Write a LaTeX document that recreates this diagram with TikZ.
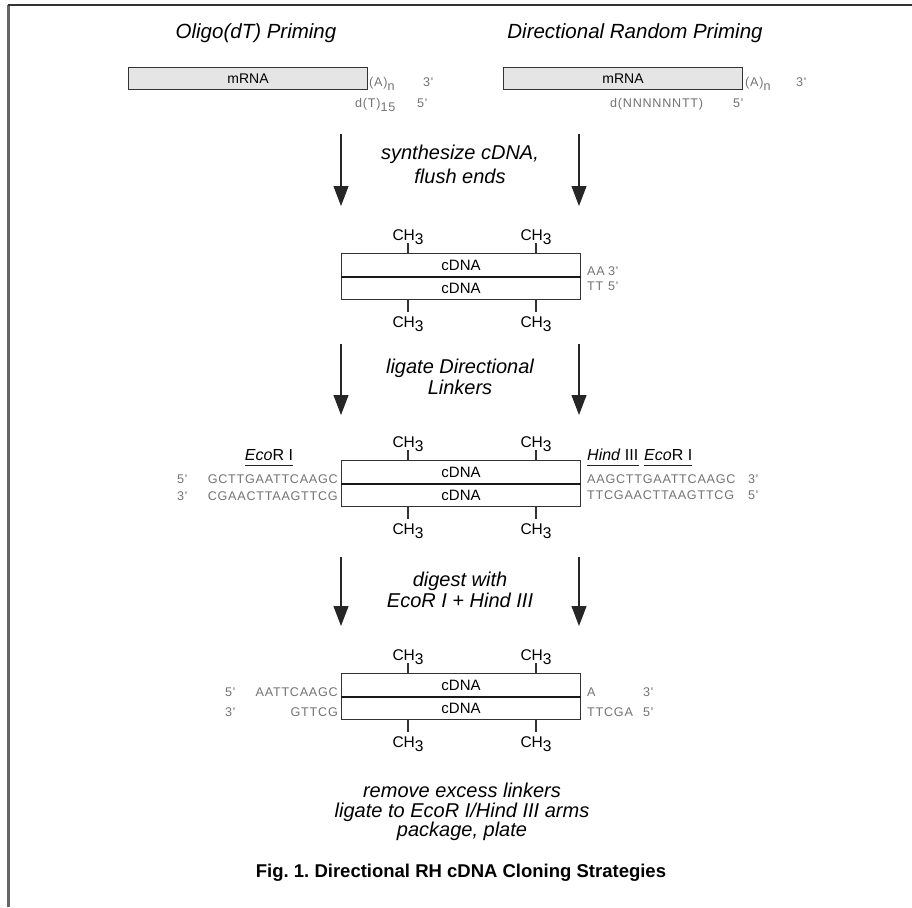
\documentclass[tikz,border=0pt]{standalone}
\usepackage{fontspec}
\setmainfont{Liberation Sans}
\newfontfamily\seqfont[LetterSpace=6]{Liberation Sans}
\usetikzlibrary{arrows.meta}
\frenchspacing

\newcommand\low[1]{\raisebox{-4pt}{#1}}
\newcommand\methyl{CH\raisebox{-4pt}{3}}

\tikzstyle{arrow} = [
    line width=1.1pt,
    -{Triangle[width=15pt,length=20pt]},
    draw=black!85
]
\tikzstyle{strand} = [draw=black!80, line width=1.1pt, minimum width=239pt, minimum height=23pt, inner sep=0pt, font=\fontsize{15}{15}\selectfont]
\tikzstyle{rnabox} = [strand, fill=gray!20, minimum height=22pt, font=\fontsize{14}{14}\selectfont]
\tikzstyle{midline} = [line width=2pt, draw=black!90]
\tikzstyle{tick} = [line width=1.1pt, draw=black!80]
\tikzstyle{methyl} = [anchor=base, inner sep=0pt, font=\fontsize{15.5}{16}\selectfont]
\tikzstyle{heading} = [anchor=base, inner sep=0pt, font=\fontsize{20.5}{22}\selectfont\itshape]
\tikzstyle{steptext} = [anchor=base, inner sep=0pt, font=\fontsize{20}{22}\selectfont\itshape]
\tikzstyle{seq} = [inner sep=0pt, text=black!55, font=\seqfont\fontsize{12.6}{13}\selectfont]
\tikzstyle{enzyme} = [inner xsep=0pt, inner ysep=5pt, font=\fontsize{16}{16}\selectfont]
\tikzstyle{underline} = [line width=0.9pt, draw=black!85]

\begin{document}
\begin{tikzpicture}[x=1pt, y=-1pt]
\useasboundingbox (0,0) rectangle (912,907);

% Frame
\draw[line width=2.4pt, black!60] (8.5,5) -- (8.5,907);
\draw[line width=1.6pt, black!80] (8,5) -- (912,5);

% Priming strategies
\node[heading] (oligo) at (256,38) {Oligo(dT) Priming};
\node[heading] (random) at (635,38) {Directional Random Priming};

\node[rnabox, anchor=north west] (mrnaL) at (128,67) {mRNA};
\node[seq, anchor=base west] (polyAL) at (369,86) {(A)\low{n}};
\node[seq, anchor=base west] (endL3) at (423,86) {3'};
\node[seq, anchor=base west] (primerL) at (355,107) {d(T)\low{15}};
\node[seq, anchor=base west] (endL5) at (417,107) {5'};

\node[rnabox, anchor=north west] (mrnaR) at (503,67) {mRNA};
\node[seq, anchor=base west] (polyAR) at (745,86) {(A)\low{n}};
\node[seq, anchor=base west] (endR3) at (796,86) {3'};
\node[seq, anchor=base west] (primerR) at (610,107) {d(NNNNNNTT)};
\node[seq, anchor=base west] (endR5) at (733,107) {5'};

% Step 1: synthesize
\coordinate (synL1) at (341,134);
\coordinate (synL2) at (341,206);
\coordinate (synR1) at (579,134);
\coordinate (synR2) at (579,206);
\draw[arrow] (synL1) -- (synL2);
\draw[arrow] (synR1) -- (synR2);
\node[steptext] (synth1) at (460,159) {synthesize cDNA,};
\node[steptext] (synth2) at (460,183) {flush ends};

% Blunt cDNA
\node[strand, anchor=north west] (cdnaAt) at (341,253) {cDNA};
\node[strand, anchor=north west] (cdnaAb) at (341,276) {cDNA};
\draw[midline] (cdnaAt.south west) -- (cdnaAt.south east);
\node[methyl] (chA1) at (408,240) {\methyl};
\node[methyl] (chA2) at (536,240) {\methyl};
\node[methyl] (chA3) at (408,327) {\methyl};
\node[methyl] (chA4) at (536,327) {\methyl};
\draw[tick] (cdnaAt.north -| chA1.base) -- ++(0,-10);
\draw[tick] (cdnaAt.north -| chA2.base) -- ++(0,-10);
\draw[tick] (cdnaAb.south -| chA3.base) -- ++(0,12);
\draw[tick] (cdnaAb.south -| chA4.base) -- ++(0,12);
\node[seq, anchor=base west] (tailA1) at (587,275) {AA};
\node[seq, anchor=base west] (endA3) at (608,275) {3'};
\node[seq, anchor=base west] (tailA2) at (587,290) {TT};
\node[seq, anchor=base west] (endA5) at (608,290) {5'};

% Step 2: ligate linkers
\coordinate (ligL1) at (341,344);
\coordinate (ligL2) at (341,415);
\coordinate (ligR1) at (579,344);
\coordinate (ligR2) at (579,415);
\draw[arrow] (ligL1) -- (ligL2);
\draw[arrow] (ligR1) -- (ligR2);
\node[steptext] (ligate1) at (460,373) {ligate Directional};
\node[steptext] (ligate2) at (460,394) {Linkers};

% cDNA with linkers
\node[strand, anchor=north west] (cdnaBt) at (341,460) {cDNA};
\node[strand, anchor=north west] (cdnaBb) at (341,483) {cDNA};
\draw[midline] (cdnaBt.south west) -- (cdnaBt.south east);
\node[methyl] (chB1) at (408,447) {\methyl};
\node[methyl] (chB2) at (536,447) {\methyl};
\node[methyl] (chB3) at (408,534) {\methyl};
\node[methyl] (chB4) at (536,534) {\methyl};
\draw[tick] (cdnaBt.north -| chB1.base) -- ++(0,-10);
\draw[tick] (cdnaBt.north -| chB2.base) -- ++(0,-10);
\draw[tick] (cdnaBb.south -| chB3.base) -- ++(0,12);
\draw[tick] (cdnaBb.south -| chB4.base) -- ++(0,12);

\node[enzyme, anchor=base] (ecoL) at (269,460) {\textit{Eco}R I};
\draw[underline] (ecoL.south west) -- (ecoL.south east);
\node[seq, anchor=base west] (endB5) at (177,483) {5'};
\node[seq, anchor=base east] (linkL1) at (338,483) {GCTTGAATTCAAGC};
\node[seq, anchor=base west] (endB3) at (177,500) {3'};
\node[seq, anchor=base east] (linkL2) at (338,500) {CGAACTTAAGTTCG};

\node[enzyme, anchor=base west] (hind) at (587,460) {\textit{Hind} III};
\draw[underline] (hind.south west) -- (hind.south east);
\node[enzyme, anchor=base west] (ecoR) at (644,460) {\textit{Eco}R I};
\draw[underline] (ecoR.south west) -- (ecoR.south east);
\node[seq, anchor=base west] (linkR1) at (587,483) {AAGCTTGAATTCAAGC};
\node[seq, anchor=base west] (endB3r) at (748,483) {3'};
\node[seq, anchor=base west] (linkR2) at (587,499) {TTCGAACTTAAGTTCG};
\node[seq, anchor=base west] (endB5r) at (748,499) {5'};

% Step 3: digest
\coordinate (digL1) at (341,557);
\coordinate (digL2) at (341,626);
\coordinate (digR1) at (579,557);
\coordinate (digR2) at (579,626);
\draw[arrow] (digL1) -- (digL2);
\draw[arrow] (digR1) -- (digR2);
\node[steptext] (digest1) at (460,586) {digest with};
\node[steptext] (digest2) at (460,607) {EcoR I + Hind III};

% Digested cDNA
\node[strand, anchor=north west] (cdnaCt) at (341,673) {cDNA};
\node[strand, anchor=north west] (cdnaCb) at (341,696) {cDNA};
\draw[midline] (cdnaCt.south west) -- (cdnaCt.south east);
\node[methyl] (chC1) at (408,660) {\methyl};
\node[methyl] (chC2) at (536,660) {\methyl};
\node[methyl] (chC3) at (408,747) {\methyl};
\node[methyl] (chC4) at (536,747) {\methyl};
\draw[tick] (cdnaCt.north -| chC1.base) -- ++(0,-10);
\draw[tick] (cdnaCt.north -| chC2.base) -- ++(0,-10);
\draw[tick] (cdnaCb.south -| chC3.base) -- ++(0,12);
\draw[tick] (cdnaCb.south -| chC4.base) -- ++(0,12);

\node[seq, anchor=base west] (endC5) at (225,696) {5'};
\node[seq, anchor=base east] (stickyL1) at (338,696) {AATTCAAGC};
\node[seq, anchor=base west] (endC3) at (225,716) {3'};
\node[seq, anchor=base east] (stickyL2) at (338,716) {GTTCG};
\node[seq, anchor=base west] (stickyR1) at (587,696) {A};
\node[seq, anchor=base west] (endC3r) at (643,696) {3'};
\node[seq, anchor=base west] (stickyR2) at (587,716) {TTCGA};
\node[seq, anchor=base west] (endC5r) at (643,716) {5'};

% Final steps and caption
\node[steptext] (final1) at (462,797) {remove excess linkers};
\node[steptext] (final2) at (462,817) {ligate to EcoR I/Hind III arms};
\node[steptext] (final3) at (462,836) {package, plate};
\node[anchor=base, inner sep=0pt, font=\bfseries\fontsize{18.5}{20}\selectfont] (caption) at (461,877) {Fig. 1. Directional RH cDNA Cloning Strategies};
\end{tikzpicture}
\end{document}
